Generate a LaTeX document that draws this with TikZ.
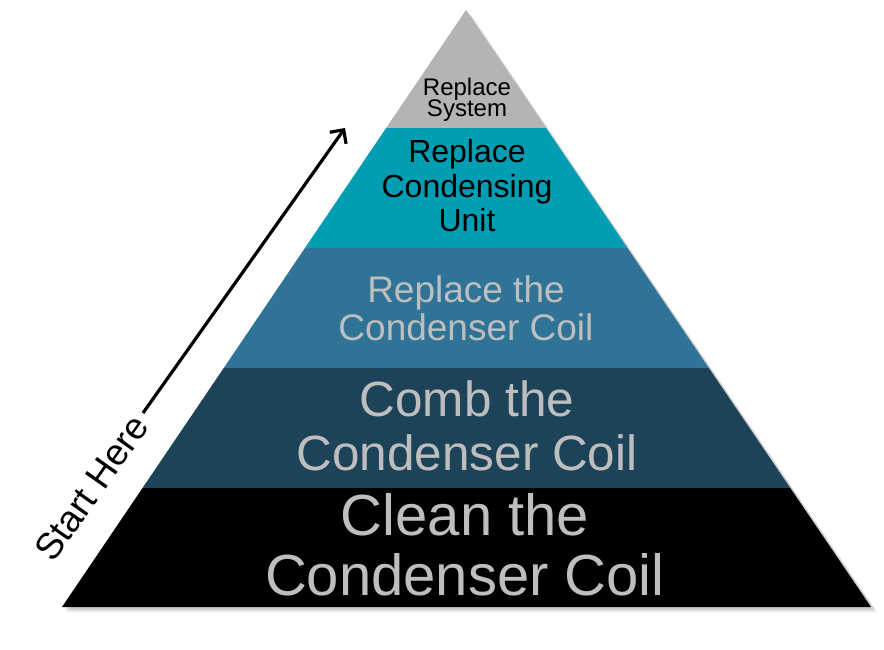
\documentclass[tikz,border=0pt]{standalone}
\usepackage{fontspec}
\setmainfont{Liberation Sans}
\usetikzlibrary{calc,arrows.meta}
\definecolor{lgray}{HTML}{B4B4B4}
\definecolor{teal1}{HTML}{009DB3}
\definecolor{blue1}{HTML}{2F7396}
\definecolor{dark1}{HTML}{1D4359}
\definecolor{txtgray}{HTML}{BEBEBE}
\begin{document}
\begin{tikzpicture}[x=1pt,y=-1pt,
  lbl/.style={anchor=base, inner sep=0pt}]
\useasboundingbox (0,0) rectangle (884,650);
\coordinate (A) at (466,10);
\coordinate (L) at (62,607);
\coordinate (R) at (871,607);
% soft shadow
\fill[black, opacity=0.12] ($(A)+(3,3)$) -- ($(R)+(4,3)$) -- ($(L)+(3,3)$) -- cycle;
\fill[black, opacity=0.08] ($(A)+(5,5)$) -- ($(R)+(6,5)$) -- ($(L)+(5,5)$) -- cycle;
% layers
\fill[lgray] (A) -- ($(A)!0.198!(R)$) -- ($(A)!0.198!(L)$) -- cycle;
\fill[teal1] ($(A)!0.198!(L)$) -- ($(A)!0.198!(R)$) -- ($(A)!0.399!(R)$) -- ($(A)!0.399!(L)$) -- cycle;
\fill[blue1] ($(A)!0.399!(L)$) -- ($(A)!0.399!(R)$) -- ($(A)!0.6!(R)$) -- ($(A)!0.6!(L)$) -- cycle;
\fill[dark1] ($(A)!0.6!(L)$) -- ($(A)!0.6!(R)$) -- ($(A)!0.801!(R)$) -- ($(A)!0.801!(L)$) -- cycle;
\fill[black] ($(A)!0.801!(L)$) -- ($(A)!0.801!(R)$) -- (R) -- (L) -- cycle;
% texts
\node[lbl, font=\fontsize{24}{24}\selectfont] (t1a) at (467,96) {Replace};
\node[lbl, font=\fontsize{24}{24}\selectfont] (t1b) at (467,117) {System};
\node[lbl, font=\fontsize{32}{32}\selectfont] (t2a) at (467,163) {Replace};
\node[lbl, font=\fontsize{32}{32}\selectfont] (t2b) at (467,197) {Condensing};
\node[lbl, font=\fontsize{32}{32}\selectfont] (t2c) at (467,231) {Unit};
\node[lbl, txtgray, font=\fontsize{37}{37}\selectfont] (t3a) at (466,302) {Replace the};
\node[lbl, txtgray, font=\fontsize{37}{37}\selectfont] (t3b) at (466,340) {Condenser Coil};
\node[lbl, txtgray, font=\fontsize{49.5}{49.5}\selectfont] (t4a) at (467,416) {Comb the};
\node[lbl, txtgray, font=\fontsize{49.5}{49.5}\selectfont] (t4b) at (467,470) {Condenser Coil};
\node[lbl, txtgray, font=\fontsize{58}{58}\selectfont] (t5a) at (465,535) {Clean the};
\node[lbl, txtgray, font=\fontsize{58}{58}\selectfont] (t5b) at (465,595) {Condenser Coil};
% arrow
\coordinate (s) at (143,413);
\coordinate (e) at (345,128);
\draw[line width=3.2, -{Straight Barb[length=10,width=20,line width=3.2]}] (s) -- (e);
\node[anchor=base west, rotate=54.7, inner sep=0pt, font=\fontsize{37}{37}\selectfont] (sh) at (53,564) {Start Here};
\end{tikzpicture}
\end{document}
